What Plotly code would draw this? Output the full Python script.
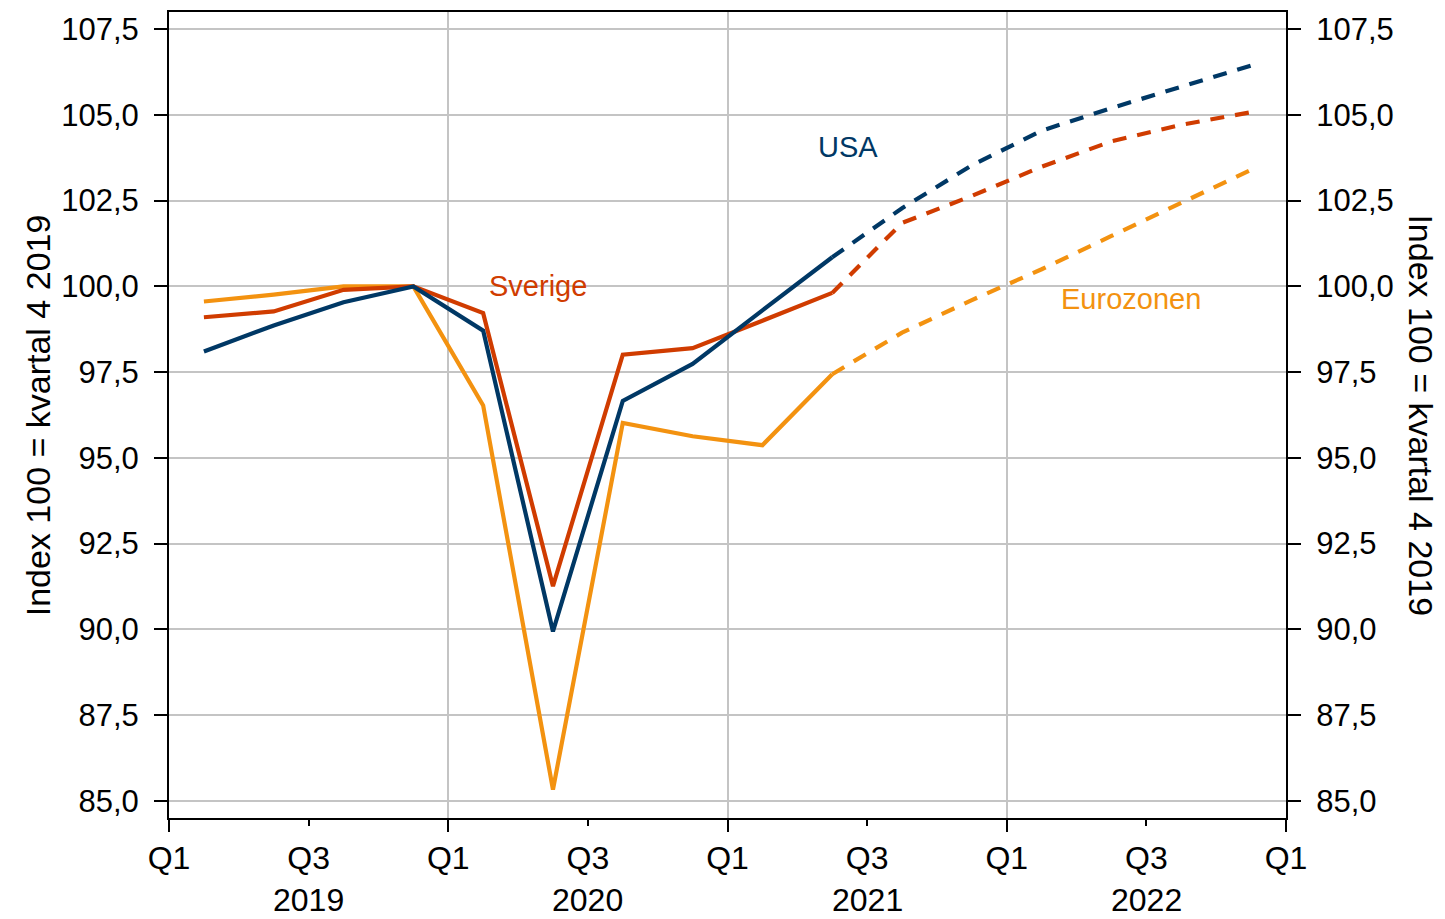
import plotly.graph_objects as go

quarters = ["2019K1", "2019K2", "2019K3", "2019K4",
            "2020K1", "2020K2", "2020K3", "2020K4",
            "2021K1", "2021K2", "2021K3", "2021K4",
            "2022K1", "2022K2", "2022K3", "2022K4"]
usa = [98.10, 98.86, 99.54, 100.00, 98.71, 89.94, 96.66, 97.74,
       99.30, 100.85, 102.28, 103.53, 104.54, 105.20, 105.83, 106.44]
sverige = [99.10, 99.27, 99.90, 100.00, 99.22, 91.26, 98.01, 98.20,
           99.00, 99.81, 101.85, 102.64, 103.49, 104.23, 104.71, 105.08]
eurozonen = [99.56, 99.76, 100.00, 100.00, 96.53, 85.33, 96.02, 95.63,
             95.37, 97.44, 98.65, 99.60, 100.50, 101.47, 102.43, 103.40]
last_outcome = "2021K2"
x_tick_labels = ["Q1", "Q3", "Q1", "Q3", "Q1", "Q3", "Q1", "Q3", "Q1"]
year_labels = ["2019", "2020", "2021", "2022"]
y_ticks = [85.0, 87.5, 90.0, 92.5, 95.0, 97.5, 100.0, 102.5, 105.0, 107.5]
y_title = "Index 100 = kvartal 4 2019"

FONT = "Liberation Sans, Arial, sans-serif"
colors = {"USA": "#003865", "Sverige": "#d03c00", "Eurozonen": "#f39210"}

# quarter midpoints on a numeric quarter scale (0 = start of 2019 Q1)
xpos = [i + 0.5 for i in range(len(quarters))]
split = quarters.index(last_outcome)

fig = go.Figure()
series = [("Eurozonen", eurozonen), ("Sverige", sverige), ("USA", usa)]
for name, vals in series:
    c = colors[name]
    fig.add_trace(go.Scatter(x=xpos[:split + 1], y=vals[:split + 1], mode="lines",
                             line=dict(color=c, width=4.2), showlegend=False,
                             hoverinfo="skip"))
    fig.add_trace(go.Scatter(x=xpos[split:], y=vals[split:], mode="lines",
                             line=dict(color=c, width=4.2, dash="14px,11px"),
                             showlegend=False, hoverinfo="skip"))

# invisible trace to activate secondary axes
fig.add_trace(go.Scatter(x=[xpos[0]], y=[100], xaxis="x2", yaxis="y2", mode="markers",
                         marker=dict(opacity=0), showlegend=False, hoverinfo="skip"))

yr = [84.5, 108.0]
xr = [0, 16]
ytickfont = dict(family=FONT, size=31, color="#000000")
xtickfont = dict(family=FONT, size=32, color="#000000")

fig.update_layout(
    width=1445, height=919,
    margin=dict(l=169, r=159, t=10, b=101),
    paper_bgcolor="white", plot_bgcolor="white",
    separators=", ",
    font=dict(family=FONT, color="#000000"),
    xaxis=dict(range=xr, tickvals=[0, 2, 4, 6, 8, 10, 12, 14, 16], ticktext=x_tick_labels,
               ticks="outside", ticklen=6, tickwidth=1.5, tickcolor="#000000",
               showgrid=False, zeroline=False, showline=True, linecolor="#000000",
               linewidth=2, mirror=True, tickfont=xtickfont, ticklabelstandoff=5),
    xaxis2=dict(range=xr, overlaying="x", anchor="y", side="bottom",
                tickvals=[0, 4, 8, 12, 16], showticklabels=False,
                ticks="outside", ticklen=13, tickwidth=2, tickcolor="#000000",
                showgrid=True, gridcolor="#c4c4c4", gridwidth=2,
                zeroline=False, showline=False),
    yaxis=dict(range=yr, tickvals=y_ticks, tickformat=".1f", ticks="outside",
               ticklen=13, tickwidth=2, tickcolor="#000000", showgrid=True,
               gridcolor="#c4c4c4", gridwidth=2, zeroline=False, showline=True,
               linecolor="#000000", linewidth=2, mirror=True, tickfont=ytickfont,
               ticklabelstandoff=9),
    yaxis2=dict(range=yr, tickvals=y_ticks, tickformat=".1f", overlaying="y",
                side="right", anchor="x", ticks="outside", ticklen=13, tickwidth=2,
                tickcolor="#000000", showgrid=False, zeroline=False, showline=True,
                linecolor="#000000", linewidth=2, tickfont=ytickfont,
                ticklabelstandoff=9),
)

ann = []
for k, yl in enumerate(year_labels):
    ann.append(dict(x=2 + 4 * k, y=0, xref="x", yref="paper", text=yl, showarrow=False,
                    yanchor="middle", yshift=-82, font=dict(family=FONT, size=32)))
ann.append(dict(x=-0.117, y=0.5, xref="paper", yref="paper", text=y_title, showarrow=False,
                textangle=-90, xanchor="center", yanchor="middle",
                font=dict(family=FONT, size=34)))
ann.append(dict(x=1.1205, y=0.5, xref="paper", yref="paper", text=y_title, showarrow=False,
                textangle=90, xanchor="center", yanchor="middle",
                font=dict(family=FONT, size=34)))
labels = [("Sverige", 5.28, 100.0), ("USA", 9.72, 104.05), ("Eurozonen", 13.78, 99.62)]
for name, lx, ly in labels:
    ann.append(dict(x=lx, y=ly, xref="x", yref="y", text=name, showarrow=False,
                    font=dict(family=FONT, size=29, color=colors[name])))
fig.update_layout(annotations=ann)

fig.write_html("out.html", config={"displayModeBar": False},
               post_script="document.body.style.margin='0px';document.body.style.overflow='hidden';")
